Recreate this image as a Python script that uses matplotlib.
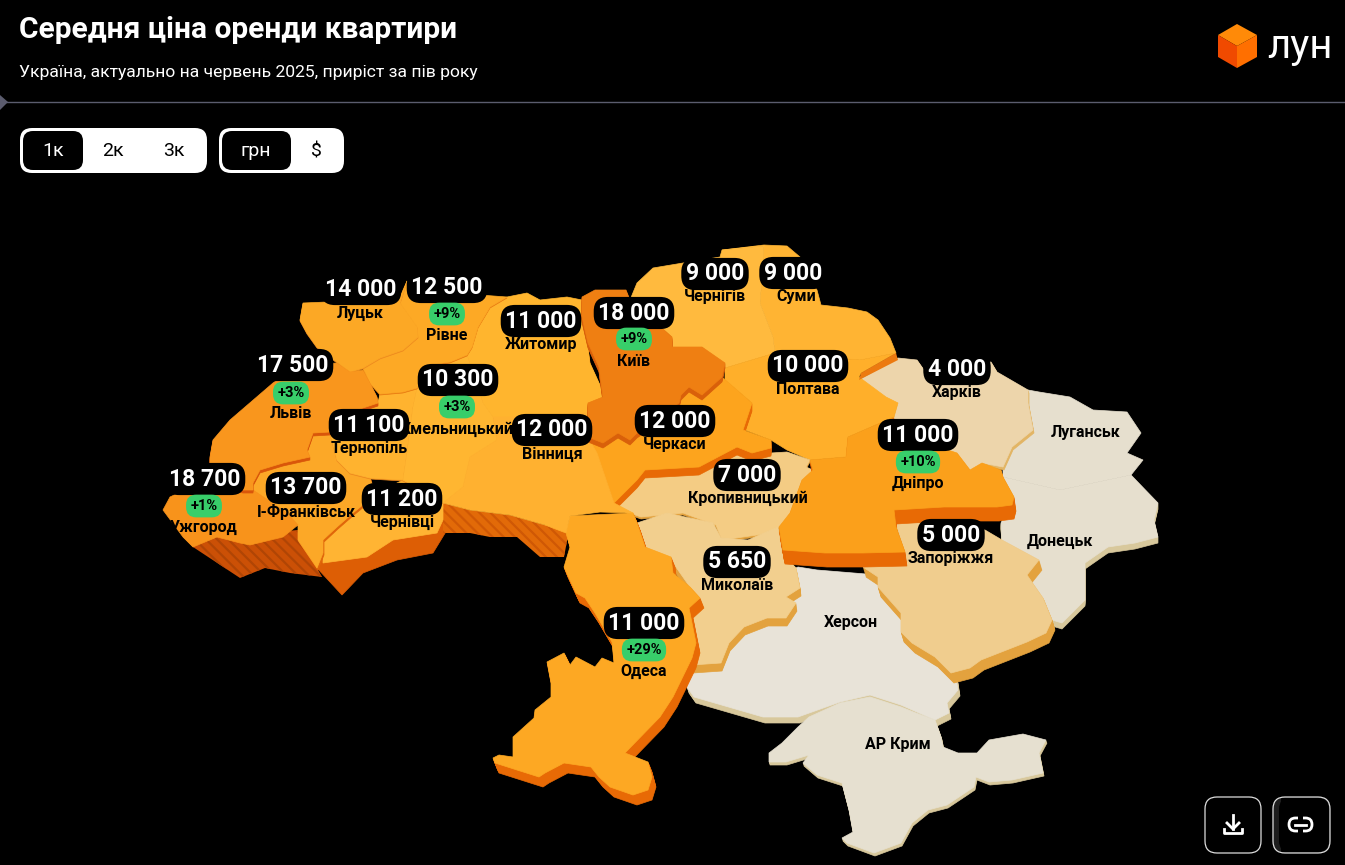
import matplotlib
matplotlib.use("Agg")
import matplotlib.pyplot as plt
from matplotlib.patches import Polygon, FancyBboxPatch, Rectangle

plt.rcParams['font.family'] = ['Roboto', 'DejaVu Sans']
plt.rcParams['hatch.linewidth'] = 1.6

# prices, hryvnia, 1 room flat
cities = ['Луцьк', 'Рівне', 'Житомир', 'Київ', 'Чернігів', 'Суми', 'Львів', 'Хмельницький', 'Тернопіль',
          'Вінниця', 'Черкаси', 'Полтава', 'Харків', 'Дніпро', 'Кропивницький', 'Ужгород', 'І-Франківськ',
          'Чернівці', 'Запоріжжя', 'Миколаїв', 'Одеса']
prices = ['14 000', '12 500', '11 000', '18 000', '9 000', '9 000', '17 500', '10 300', '11 100',
          '12 000', '12 000', '10 000', '4 000', '11 000', '7 000', '18 700', '13 700',
          '11 200', '5 000', '5 650', '11 000']
growth = ['+9%', '+9%', '+3%', '+3%', '+10%', '+1%', '+29%']
no_data = ['Херсон', 'Луганськ', 'Донецьк', 'АР Крим']

# label anchors in picture pixels
price_xy = [(361, 289), (447, 287), (541, 321), (634, 313), (715, 274), (793, 273), (293, 365), (458, 380), (369, 425),
            (552, 430), (675, 421), (808, 366), (957, 369), (918, 435), (747, 475), (205, 479), (306, 488),
            (402, 499), (951, 535), (737, 562), (644, 623)]
name_xy = [(360, 313), (447, 335), (541, 344), (634, 361), (715, 297), (796, 297), (291, 413), (457, 429), (369, 448),
           (552, 454), (675, 444), (808, 389), (957, 392), (918, 483), (748, 498), (204, 527), (306, 512),
           (402, 522), (951, 558), (737, 585), (644, 671)]
growth_xy = [(447, 314), (634, 339), (291, 393), (457, 407), (918, 462), (204, 506), (644, 650)]
no_data_xy = [(851, 622), (1086, 432), (1060, 541), (898, 744)]

volyn = [(303, 303), (327, 302), (400, 297), (407, 281), (400, 303), (417, 327), (418, 337), (403, 350), (380, 358),
         (363, 368), (350, 372), (337, 362), (317, 347), (307, 333), (300, 320)]
rivne = [(407, 281), (422, 295), (480, 295), (507, 297), (490, 307), (478, 327), (472, 347), (467, 355), (450, 362),
         (430, 365), (417, 388), (403, 392), (380, 394), (370, 383), (363, 368), (380, 358), (403, 350), (418, 337),
         (417, 327), (400, 303)]
lviv = [(213, 440), (230, 420), (273, 383), (300, 365), (337, 363), (350, 372), (363, 370), (370, 383), (377, 397),
        (378, 403), (357, 410), (330, 432), (313, 433), (307, 450), (310, 457), (283, 463), (260, 470), (253, 483),
        (253, 490), (243, 490), (210, 480), (210, 457)]
zakarpattia = [(170, 497), (163, 510), (183, 537), (193, 547), (217, 537), (240, 543), (250, 545), (283, 537),
               (298, 525), (287, 513), (253, 490), (243, 490), (210, 478)]
frankivsk = [(253, 483), (260, 470), (283, 463), (310, 457), (307, 450), (313, 433), (330, 432), (337, 460), (350, 473),
             (370, 478), (375, 495), (353, 513), (337, 527), (323, 540), (323, 553), (317, 568), (298, 540), (298, 525),
             (287, 513), (253, 490)]
chernivtsi = [(353, 513), (363, 500), (403, 480), (443, 503), (443, 520), (437, 533), (393, 540), (367, 557), (323, 563),
              (323, 540), (337, 527)]
ternopil = [(378, 403), (380, 394), (403, 392), (417, 388), (413, 407), (407, 453), (403, 480), (370, 478), (350, 473),
            (337, 460), (330, 432), (357, 410)]
khmelnytskyi = [(417, 388), (430, 365), (450, 362), (467, 355), (483, 403), (493, 417), (497, 440), (470, 457), (463, 487),
                (443, 503), (403, 480), (407, 453), (413, 407)]
zhytomyr = [(507, 297), (527, 293), (540, 300), (567, 297), (582, 300), (587, 340), (590, 363), (600, 385), (603, 397),
            (588, 403), (587, 413), (520, 417), (493, 417), (483, 403), (467, 355), (472, 347), (478, 327), (490, 307)]
vinnytsia = [(493, 417), (520, 417), (587, 413), (588, 437), (597, 453), (614, 503), (633, 513), (600, 512), (570, 516),
             (566, 533), (545, 525), (510, 515), (470, 510), (443, 503), (463, 487), (470, 457), (497, 440)]
kyiv = [(582, 297), (595, 290), (626, 290), (630, 300), (672, 337), (672, 347), (702, 347), (725, 363), (722, 377),
        (702, 395), (689, 387), (681, 395), (679, 403), (637, 433), (630, 440), (618, 433), (603, 443), (588, 437),
        (588, 403), (603, 397), (599, 367), (588, 343), (582, 317)]
chernihiv = [(630, 300), (637, 283), (653, 268), (683, 263), (720, 257), (722, 250), (764, 246), (762, 280), (760, 303),
             (773, 337), (775, 353), (725, 368), (702, 347), (672, 347), (672, 337)]
sumy = [(722, 250), (764, 245), (787, 246), (800, 257), (817, 290), (821, 305), (848, 308), (867, 312), (878, 320),
        (890, 338), (896, 353), (860, 360), (775, 353), (773, 337), (760, 303), (762, 280), (764, 246)]
poltava = [(725, 368), (775, 353), (860, 360), (896, 353), (861, 373), (859, 377), (886, 397), (898, 403), (894, 417), (848, 437),
           (846, 457), (810, 460), (787, 450), (771, 440), (745, 430), (752, 403), (725, 380)]
cherkasy = [(679, 403), (681, 395), (689, 387), (702, 395), (722, 377), (752, 403), (743, 430), (771, 440), (771, 448),
            (752, 453), (737, 447), (699, 467), (645, 470), (637, 480), (614, 503), (597, 453), (588, 437), (603, 443),
            (618, 433), (630, 440), (637, 433)]
kropyvnytskyi = [(614, 503), (645, 477), (699, 472), (737, 450), (752, 455), (771, 453), (787, 452), (810, 460), (806, 467),
                 (813, 470), (802, 480), (790, 513), (779, 527), (771, 533), (722, 540), (716, 525), (683, 513), (641, 517),
                 (630, 513)]
dnipro = [(810, 460), (846, 457), (848, 437), (894, 417), (878, 427), (957, 453), (970, 470), (982, 463), (1001, 470),
          (1003, 477), (1014, 497), (1012, 505), (997, 507), (944, 507), (894, 510), (896, 527), (905, 552), (863, 553),
          (825, 553), (783, 550), (779, 527), (790, 513), (802, 480), (813, 470)]
kharkiv = [(859, 380), (898, 358), (917, 360), (924, 370), (991, 362), (997, 372), (1028, 390), (1028, 403), (1033, 430),
           (1012, 447), (1003, 467), (982, 463), (970, 470), (957, 453), (878, 427), (894, 417), (898, 403), (886, 397)]
luhansk = [(1028, 390), (1039, 392), (1070, 397), (1093, 410), (1127, 412), (1141, 433), (1127, 453), (1143, 460),
           (1131, 475), (1060, 490), (1003, 477), (1003, 467), (1012, 447), (1033, 430), (1028, 403)]
donetsk = [(1131, 475), (1158, 503), (1154, 520), (1158, 537), (1135, 543), (1108, 547), (1085, 563), (1085, 600), (1062, 623),
           (1052, 620), (1043, 598), (1027, 575), (1039, 560), (1002, 540), (1001, 523), (1014, 497), (1003, 477), (1060, 490)]
zaporizhzhia = [(895, 520), (985, 530), (1002, 540), (1039, 560), (1027, 575), (1043, 598), (1052, 620), (1046, 633),
                (1027, 642), (981, 660), (970, 668), (951, 673), (935, 657), (912, 643), (901, 632), (901, 613), (878, 587),
                (878, 577), (863, 567), (905, 553)]
mykolaiv = [(637, 523), (667, 513), (713, 523), (721, 538), (748, 540), (778, 527), (782, 553), (796, 568), (800, 588),
            (786, 597), (796, 603), (786, 618), (767, 618), (744, 627), (729, 643), (721, 663), (692, 665), (696, 643),
            (689, 610), (700, 600), (692, 590), (671, 560), (660, 553), (645, 547)]
odesa = [(566, 533), (570, 516), (633, 513), (637, 523), (645, 547), (671, 557), (673, 573), (690, 587), (700, 598), (689, 608),
         (696, 643), (692, 658), (673, 697), (660, 717), (625, 753), (648, 762), (652, 777), (648, 790), (633, 795), (610, 787),
         (599, 777), (591, 767), (564, 763), (545, 773), (539, 777), (495, 763), (493, 758), (499, 755), (513, 757), (513, 737),
         (534, 718), (535, 710), (551, 697), (551, 683), (547, 662), (564, 653), (570, 665), (576, 657), (595, 667), (602, 658),
         (614, 663), (612, 642), (595, 613), (585, 598), (576, 593), (564, 567), (570, 547)]
kherson = [(798, 567), (817, 570), (878, 575), (878, 590), (901, 617), (901, 633), (932, 663), (956, 677), (958, 690),
           (947, 703), (949, 713), (935, 720), (901, 705), (870, 695), (840, 702), (798, 717), (763, 717), (694, 697), (687, 687),
           (692, 668), (721, 665), (729, 643), (744, 628), (786, 618), (796, 603), (786, 597), (800, 588), (796, 568)]
crimea = [(809, 717), (840, 703), (870, 697), (901, 707), (916, 713), (935, 720), (941, 737), (943, 747), (958, 753), (977, 753),
          (989, 740), (1023, 734), (1046, 740), (1039, 753), (1043, 773), (1012, 780), (989, 782), (976, 777), (974, 787), (947, 805),
          (928, 810), (912, 823), (901, 843), (874, 853), (847, 843), (842, 838), (853, 832), (849, 810), (842, 783), (817, 775),
          (803, 763), (809, 755), (786, 762), (769, 762), (769, 753), (782, 743), (798, 727)]

# tall walls on the south west edge, these are not a plain shift of the outline
wall_zak = [(183, 537), (193, 547), (240, 578), (265, 568), (290, 573), (322, 577), (317, 568), (298, 530), (240, 535)]
wall_chernivtsi = [(317, 568), (342, 595), (363, 573), (397, 560), (433, 553), (447, 530), (443, 505), (393, 530), (323, 555)]
wall_vinnytsia = [(443, 503), (470, 510), (510, 515), (545, 525), (570, 525), (564, 557), (540, 557), (517, 537), (490, 537),
                  (470, 533), (443, 533)]
wall_sumy = [(896, 353), (861, 373), (859, 380), (898, 360)]

# bottom layer first, each row: outline, top colour, side colour, side offset
layers = [
    (luhansk, '#E6DFCE', '#E6DFCE', (0, 0)),
    (kharkiv, '#EDD5AB', '#E2B565', (1, 3)),
    (sumy, '#FFB433', '#FFB433', (0, 0)),
    (chernihiv, '#FFBA3E', '#FFBA3E', (0, 0)),
    (chernivtsi, '#FFB433', '#DD5E05', (0, 0)),
    (frankivsk, '#FCA827', '#E0660A', (1, 2)),
    (zakarpattia, '#F8931B', '#F8931B', (0, 0)),
    (zhytomyr, '#FFB52E', '#E97C12', (0, 1)),
    (ternopil, '#FFB32F', '#EE8B1F', (0, 1)),
    (khmelnytskyi, '#FFB631', '#EE8B1F', (0, 1)),
    (rivne, '#FDA925', '#E97C12', (0, 1)),
    (volyn, '#FCA825', '#EE8B1F', (0, 1)),
    (lviv, '#F9961D', '#D9560A', (0, 3)),
    (poltava, '#FFAF2A', '#FFAF2A', (0, 0)),
    (kropyvnytskyi, '#F4CC84', '#E3A23E', (0, 2)),
    (donetsk, '#E6DFCE', '#D8C89C', (0, 6)),
    (kherson, '#E8E3D8', '#D8C89C', (2, 6)),
    (crimea, '#E6E0D0', '#D8C89C', (1, 3)),
    (mykolaiv, '#F2CF8E', '#E3A23E', (1, 8)),
    (zaporizhzhia, '#F0CD8E', '#E3A23E', (3, 10)),
    (odesa, '#FDA823', '#E86A05', (4, 10)),
    (cherkasy, '#FDA41D', '#E86A05', (0, 8)),
    (vinnytsia, '#FFB130', '#FFB130', (0, 0)),
    (kyiv, '#EF7F12', '#D9600A', (0, 5)),
    (dnipro, '#FBA01B', '#E86A05', (2, 14)),
]

fig = plt.figure(figsize=(13.45, 8.65), dpi=100, facecolor='black')
ax = fig.add_axes([0, 0, 1, 1])
ax.set_xlim(0, 1345)
ax.set_ylim(865, 0)
ax.axis('off')

ax.add_patch(Polygon(wall_zak, fc='#CB5006', ec='#B04505', lw=0, hatch='\\\\\\'))
ax.add_patch(Polygon(wall_chernivtsi, fc='#DD5E05', ec='#DD5E05', lw=0.5))
ax.add_patch(Polygon(wall_vinnytsia, fc='#E26A08', ec='#CF5805', lw=0, hatch='\\\\\\'))

for outline, top, side, (dx, dy) in layers:
    steps = max(dx, dy)
    # stacked copies make the extruded wall
    for k in range(steps, 0, -1):
        ax.add_patch(Polygon([(x + dx * k / steps, y + dy * k / steps) for x, y in outline], fc=side, ec=side, lw=0.5))
    ax.add_patch(Polygon(outline, fc=top, ec=top, lw=0.5))

ax.add_patch(Polygon(wall_sumy, fc='#EC7A10', ec='none'))

# names go under the pills, some of them get cut by the pills
for name, (x, y) in zip(cities, name_xy):
    ax.text(x, y, name, ha='center', va='center', color='black', fontsize=11.5, fontweight='bold')
for name, (x, y) in zip(no_data, no_data_xy):
    ax.text(x, y, name, ha='center', va='center', color='black', fontsize=11.5, fontweight='bold')

for price, (x, y) in zip(prices, price_xy):
    ax.text(x, y, price, ha='center', va='center', color='white', fontsize=16.5, fontweight='bold',
            bbox=dict(boxstyle='round,pad=0.2,rounding_size=0.62', fc='black', ec='none'))

for g, (x, y) in zip(growth, growth_xy):
    ax.text(x, y, g, ha='center', va='center', color='black', fontsize=10.5, fontweight='bold',
            bbox=dict(boxstyle='round,pad=0.3,rounding_size=0.7', fc='#38CE6A', ec='none'))

# header
ax.text(19, 30, 'Середня ціна оренди квартири', color='white', fontsize=21.5, fontweight='bold', va='center')
ax.text(19, 72, 'Україна, актуально на червень 2025, приріст за пів року', color='white', fontsize=12.6, va='center')
ax.plot([6, 1345], [102, 102], color='#5B5C6E', lw=1)
ax.add_patch(Polygon([(0, 95), (8, 102), (0, 110)], fc='#5B5C6E', ec='none'))

# toggles
ax.add_patch(FancyBboxPatch((32, 140), 163, 21, boxstyle='round,pad=12,rounding_size=12', fc='white', ec='none'))
ax.add_patch(FancyBboxPatch((33, 141), 40, 19, boxstyle='round,pad=10,rounding_size=10', fc='black', ec='none'))
ax.add_patch(FancyBboxPatch((231, 140), 101, 21, boxstyle='round,pad=12,rounding_size=12', fc='white', ec='none'))
ax.add_patch(FancyBboxPatch((232, 141), 49, 19, boxstyle='round,pad=10,rounding_size=10', fc='black', ec='none'))
for txt, x, c in [('1к', 53, 'white'), ('2к', 113, 'black'), ('3к', 174, 'black'), ('грн', 256, 'white'), ('$', 316, 'black')]:
    ax.text(x, 151, txt, ha='center', va='center', color=c, fontsize=14)

# logo
ax.add_patch(Polygon([(1237, 24), (1257, 35), (1237, 46), (1218, 35)], fc='#FF8A08', ec='none'))
ax.add_patch(Polygon([(1218, 35), (1237, 46), (1237, 68), (1218, 57)], fc='#F04A00', ec='none'))
ax.add_patch(Polygon([(1237, 46), (1257, 35), (1257, 57), (1237, 68)], fc='#FF6F00', ec='none'))
ax.text(1300, 46, 'лун', ha='center', va='center', color='white', fontsize=29, fontweight='regular')

# bottom right buttons
ax.add_patch(FancyBboxPatch((1217, 809), 32, 32, boxstyle='round,pad=12,rounding_size=12', fc='black', ec='#DDDDDD', lw=0.9))
ax.add_patch(FancyBboxPatch((1285, 809), 33, 32, boxstyle='round,pad=12,rounding_size=12', fc='#1E1E1E', ec='none'))
ax.add_patch(Rectangle((1281, 798), 38, 54, fc='black', ec='none'))
ax.add_patch(FancyBboxPatch((1290, 809), 28, 32, boxstyle='round,pad=11,rounding_size=11', fc='black', ec='none'))
ax.add_patch(FancyBboxPatch((1285, 809), 33, 32, boxstyle='round,pad=12,rounding_size=12', fc='none', ec='#DDDDDD', lw=0.9))
ax.plot([1233, 1233], [815, 829], color='white', lw=2)
ax.plot([1227, 1233, 1239], [823, 829, 823], color='white', lw=2)
ax.plot([1224, 1224, 1242, 1242], [829, 833, 833, 829], color='white', lw=2)
ax.add_patch(FancyBboxPatch((1289, 818), 23, 13, boxstyle='round,pad=0,rounding_size=6.5', fc='none', ec='white', lw=2))
ax.add_patch(Rectangle((1298, 815), 5, 19, fc='black', ec='none'))
ax.plot([1295, 1306], [824.5, 824.5], color='white', lw=2)

fig.savefig('out.png', dpi=100, facecolor='black')
